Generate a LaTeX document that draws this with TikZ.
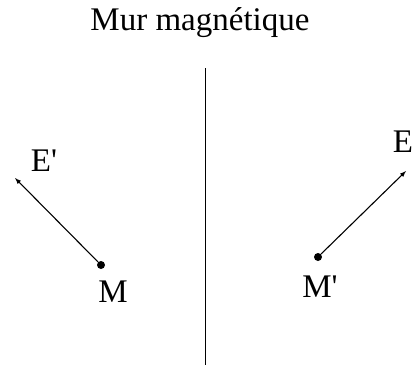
\documentclass[tikz,border=0pt]{standalone}
\usepackage{fontspec}
\setmainfont{Liberation Serif}
\usepackage{tikz}
\usetikzlibrary{positioning}

\begin{document}
\begin{tikzpicture}[
      x=1pt, y=-1pt,
      label/.style={font=\fontsize{33}{38}\selectfont, inner sep=0pt},
      point/.style={circle, fill, inner sep=0pt, minimum size=8pt},
      >={latex[scale=1.3]}
  ]
    \useasboundingbox (0,0) rectangle (413,365);

    % --- Wall ---
    \node[label, anchor=base] (title) at (200,30) {Mur magnétique};
    \coordinate (wtop) at (205.5,68);
    \coordinate (wbot) at (205.5,365);
    \draw[line width=1.5pt] (wtop) -- (wbot);

    % --- Left side: point M and field E' ---
    \node[point] (M) at (101,265) {};
    \coordinate (tipL) at (15,178);
    \node[label] (lM) at (113,292) {M};
    \node[label] (lEp) at (44,161) {E\textquotesingle};
    \draw[->, line width=1.1pt] (M) -- (tipL);

    % --- Right side: image point M' and field E ---
    \node[point] (Mp) at (318,257) {};
    \coordinate (tipR) at (406,171);
    \node[label] (lMp) at (320,287) {M\textquotesingle};
    \node[label] (lE) at (403,142) {E};
    \draw[->, line width=1.1pt] (Mp) -- (tipR);

  \end{tikzpicture}
\end{document}
